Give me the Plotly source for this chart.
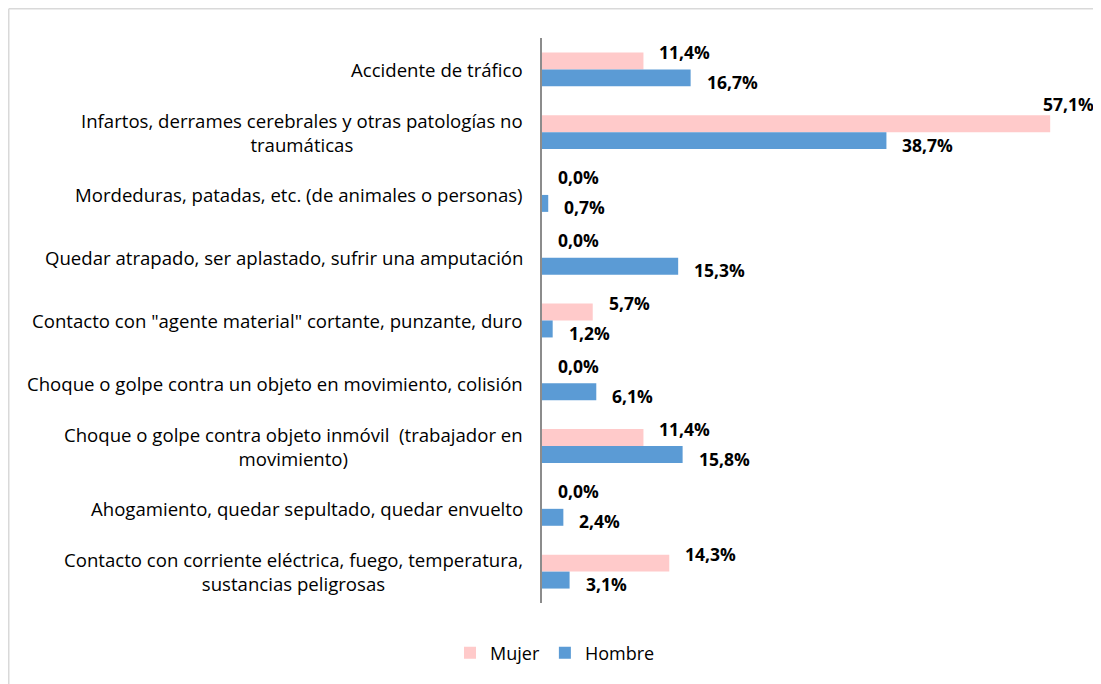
import plotly.graph_objects as go

categories = [
    "Accidente de tráfico",
    "Infartos, derrames cerebrales y otras patologías no<br>traumáticas",
    "Mordeduras, patadas, etc. (de animales o personas)",
    "Quedar atrapado, ser aplastado, sufrir una amputación",
    "Contacto con \"agente material\" cortante, punzante, duro",
    "Choque o golpe contra un objeto en movimiento, colisión",
    "Choque o golpe contra objeto inmóvil  (trabajador en<br>movimiento)",
    "Ahogamiento, quedar sepultado, quedar envuelto",
    "Contacto con corriente eléctrica, fuego, temperatura,<br>sustancias peligrosas",
]
mujer = [11.4, 57.1, 0.0, 0.0, 5.7, 0.0, 11.4, 0.0, 14.3]
hombre = [16.7, 38.7, 0.7, 15.3, 1.2, 6.1, 15.8, 2.4, 3.1]
series_names = ["Mujer", "Hombre"]
x_max = 60

# page has an 8px body margin; figure drawn within it
PAGE_OFF = 8
W, H = 1101 - PAGE_OFF, 684 - PAGE_OFF
ML, MR, MT, MB = 542 - PAGE_OFF, 25, 38 - PAGE_OFF, 81
PW, PH = W - ML - MR, H - MT - MB

FONT = "Open Sans"
colors = ["#FFCACA", "#5B9BD5"]
BARGAP = 0.46
bw = (1 - BARGAP) / 2

def fmt(v):
    return f"{v:.1f}".replace(".", ",") + "%"

n = len(categories)
ypos = list(range(n))

fig = go.Figure()
for name, vals, col in zip(series_names, [mujer, hombre], colors):
    fig.add_trace(go.Bar(
        y=ypos, x=vals, orientation="h", name=name,
        marker=dict(color=col, line=dict(width=0)),
        hoverinfo="x+name",
    ))

annotations = []
# category labels (centered multi-line, right-anchored next to axis)
for i, c in enumerate(categories):
    annotations.append(dict(
        x=0, xref="paper", y=i, yref="y", text=c, showarrow=False,
        xanchor="right", xshift=-17, align="center",
        font=dict(family=FONT, size=18.6, color="#000000"),
    ))

# data labels
for si, vals in enumerate([mujer, hombre]):
    off = -bw / 2 if si == 0 else bw / 2
    for i, v in enumerate(vals):
        big = v / x_max > 0.85
        annotations.append(dict(
            x=v, xref="x", y=i + off, yref="y", text=fmt(v), showarrow=False,
            xanchor="right" if big else "left",
            xshift=46 if big else 14,
            yshift=(20 if big else 9) if si == 0 else -4,
            font=dict(family=FONT, size=17.5, color="#000000", weight="bold"),
        ))

# outer border (only left and top edges fall inside the page)
xl = (0.75 - ML) / PW
xr = (W + 20 - ML) / PW
yt = 1 + (MT - 0.75) / PH
yb = -(MB + 20) / PH
border = dict(color="#D9D9D9", width=1.5)
shapes = [
    dict(type="line", xref="paper", yref="paper", x0=xl, x1=xr, y0=yt, y1=yt, line=border, layer="below"),
    dict(type="line", xref="paper", yref="paper", x0=xl, x1=xl, y0=yb, y1=yt, line=border, layer="below"),
]

fig.update_layout(
    width=W, height=H,
    margin=dict(l=ML, r=MR, t=MT, b=MB),
    paper_bgcolor="white", plot_bgcolor="white",
    barmode="group", bargap=BARGAP, bargroupgap=0,
    xaxis=dict(range=[0, x_max], visible=False, fixedrange=True),
    yaxis=dict(range=[n - 0.5, -0.5], showticklabels=False, showgrid=False, zeroline=False,
               showline=True, linecolor="#8C8C8C", linewidth=1.5, ticks=""),
    legend=dict(orientation="h", x=(555 - PAGE_OFF) / W, xref="container", xanchor="center",
                y=1 - (653 - PAGE_OFF) / H, yref="container", yanchor="middle",
                font=dict(family=FONT, size=18, color="#000000"), traceorder="normal",
                itemwidth=30),
    annotations=annotations,
    shapes=shapes,
    showlegend=True,
)

fig.write_html("out.html")
